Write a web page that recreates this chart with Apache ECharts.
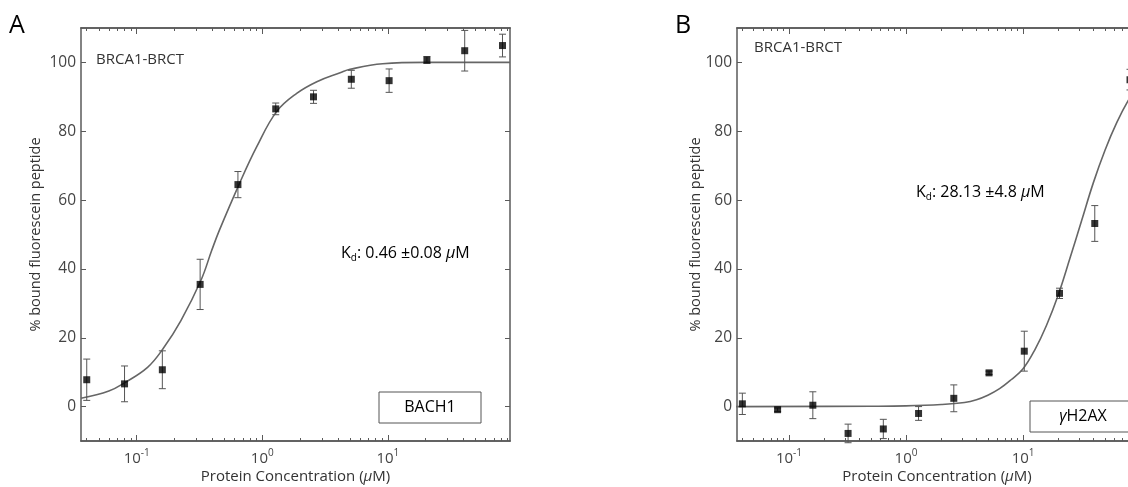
<!DOCTYPE html>
<html>
<head>
<meta charset="utf-8">
<script src="https://cdn.jsdelivr.net/npm/echarts@6/dist/echarts.min.js"></script>
<style>
html, body { margin: 0; padding: 0; background: #fff; }
#chart { width: 1128px; height: 487px; }
</style>
</head>
<body>
<div id="chart"></div>
<script>
// 2-fold dilution series of the protein (uM)
var conc = [0.04, 0.08, 0.16, 0.32, 0.64, 1.28, 2.56, 5.12, 10.24, 20.48, 40.96, 81.92];

// panel A - BACH1
var meanA = [7.8, 6.6, 10.7, 35.5, 64.5, 86.5, 90.0, 95.1, 94.7, 100.7, 103.4, 104.9];
var errA = [6.0, 5.2, 5.5, 7.3, 3.8, 1.7, 1.9, 2.6, 3.4, 1.0, 5.9, 3.3];
var fitXA = [0.036, 0.06, 0.08, 0.122, 0.162, 0.225, 0.325, 0.396, 0.455, 0.658, 0.904, 1.30, 1.88, 2.72, 4.17, 5.0, 9.1, 20, 94];
var fitYA = [2.4, 4.5, 6.9, 11.4, 16.8, 25.0, 36.7, 45.4, 51.2, 64.8, 75.5, 85.7, 91.0, 94.4, 97.0, 98.0, 99.6, 100, 100];

// panel B - gammaH2AX
var meanB = [0.8, -0.9, 0.4, -7.8, -6.5, -2.0, 2.4, 9.8, 16.1, 32.9, 53.2, 95.0];
var errB = [3.1, 0.5, 3.9, 2.7, 2.8, 2.0, 3.9, 0.5, 5.8, 1.5, 5.2, 3.0];
var fitXB = [0.035, 0.5, 1.0, 2.0, 3.16, 4.0, 5.0, 6.3, 7.9, 10.0, 12.6, 15.8, 20.0, 25.1, 31.6, 39.8, 50.1, 63.1, 79.4, 94];
var fitYB = [0, 0.1, 0.2, 0.6, 1.2, 2.0, 3.3, 5.2, 7.8, 11.0, 16.5, 23.5, 32.5, 43.0, 54.0, 65.0, 74.5, 82.5, 89.0, 92.5];

// ticks
var majorTicks = [0.1, 1, 10];
var minorTicks = [0.04, 0.05, 0.06, 0.07, 0.08, 0.09,
                  0.2, 0.3, 0.4, 0.5, 0.6, 0.7, 0.8, 0.9,
                  2, 3, 4, 5, 6, 7, 8, 9,
                  20, 30, 40, 50, 60, 70, 80, 90];
var yTicks = [0, 20, 40, 60, 80, 100];

var ff = 'Open Sans, sans-serif';
var axisColor = '#5a5a5a';

function xAx(grid, pos, ticks, len, withLabel) {
    var ax = {
        type: 'log', logBase: 10, gridIndex: grid, position: pos,
        min: 0.036, max: 94,
        axisLine: {show: true, onZero: false, lineStyle: {color: axisColor, width: 1.5}},
        axisTick: {show: true, inside: true, length: len, customValues: ticks,
                   lineStyle: {color: axisColor, width: 1}},
        axisLabel: {show: false},
        splitLine: {show: false}
    };
    if (withLabel) {
        ax.axisLabel = {
            show: true, customValues: majorTicks, margin: 7,
            formatter: function (v) {
                return '{b|10}{s|' + Math.round(Math.log10(v)) + '}';
            },
            rich: {
                b: {fontFamily: ff, fontSize: 15, color: '#444', lineHeight: 21},
                s: {fontFamily: ff, fontSize: 10, color: '#444', lineHeight: 12, verticalAlign: 'top'}
            }
        };
        ax.name = 'Protein Concentration ({i|μ}M)';
        ax.nameLocation = 'middle';
        ax.nameGap = 28;
        ax.nameMoveOverlap = false;
        ax.nameTextStyle = {fontFamily: ff, fontSize: 15, color: '#333',
            rich: {i: {fontFamily: ff, fontSize: 15, color: '#333', fontStyle: 'italic'}}};
    }
    return ax;
}

function yAx(grid, pos, withLabel, gap) {
    var ax = {
        type: 'value', gridIndex: grid, position: pos, min: -10, max: 110,
        axisLine: {show: true, onZero: false, lineStyle: {color: axisColor, width: 1.5}},
        axisTick: {show: true, inside: true, length: 5, customValues: yTicks,
                   lineStyle: {color: axisColor, width: 1}},
        axisLabel: {show: false},
        splitLine: {show: false}
    };
    if (withLabel) {
        ax.axisLabel = {show: true, customValues: yTicks, margin: 5,
                        fontFamily: ff, fontSize: 15.5, color: '#444'};
        ax.name = '% bound fluorescein peptide';
        ax.nameLocation = 'middle';
        ax.nameGap = gap;
        ax.nameMoveOverlap = false;
        ax.nameTextStyle = {fontFamily: ff, fontSize: 14.5, color: '#333'};
    }
    return ax;
}

function errBars(xs, mean, err) {
    return xs.map(function (x, i) { return [x, mean[i] - err[i], mean[i] + err[i]]; });
}

function pairs(xs, ys) {
    return xs.map(function (x, i) { return [x, ys[i]]; });
}

function renderErr(params, api) {
    var x = api.value(0);
    var p1 = api.coord([x, api.value(1)]);
    var p2 = api.coord([x, api.value(2)]);
    var cap = 3.5;
    var st = {stroke: '#555', lineWidth: 1};
    return {
        type: 'group',
        children: [
            {type: 'line', shape: {x1: p1[0], y1: p1[1], x2: p2[0], y2: p2[1]}, style: st},
            {type: 'line', shape: {x1: p1[0] - cap, y1: p1[1], x2: p1[0] + cap, y2: p1[1]}, style: st},
            {type: 'line', shape: {x1: p2[0] - cap, y1: p2[1], x2: p2[0] + cap, y2: p2[1]}, style: st}
        ]
    };
}

function panelSeries(xi, yi, fitX, fitY, mean, err) {
    return [
        {
            type: 'line', xAxisIndex: xi, yAxisIndex: yi, data: pairs(fitX, fitY),
            smooth: 0.4, showSymbol: false, silent: true, z: 2,
            lineStyle: {color: '#666', width: 1.6}
        },
        {
            type: 'custom', xAxisIndex: xi, yAxisIndex: yi, data: errBars(conc, mean, err),
            renderItem: renderErr, encode: {x: 0, y: [1, 2]}, z: 3, silent: true
        },
        {
            type: 'scatter', xAxisIndex: xi, yAxisIndex: yi, data: pairs(conc, mean),
            symbol: 'rect', symbolSize: 7, itemStyle: {color: '#000'}, z: 4, silent: true
        }
    ];
}

var kdRich = {
    k: {fontFamily: ff, fontSize: 16, color: '#222', lineHeight: 20},
    d: {fontFamily: ff, fontSize: 10, color: '#222', lineHeight: 11, verticalAlign: 'bottom'},
    t: {fontFamily: ff, fontSize: 16, color: '#222', lineHeight: 20},
    mu: {fontFamily: ff, fontSize: 16, color: '#222', lineHeight: 20, fontStyle: 'italic'}
};

function note(x, y, text, size, color) {
    return {type: 'text', x: x, y: y,
            style: {text: text, font: size + 'px ' + ff, fill: color, align: 'left', verticalAlign: 'middle'}};
}

function kdNote(x, y, text) {
    return {type: 'text', x: x, y: y,
            style: {text: text, rich: kdRich, align: 'left', verticalAlign: 'middle'}};
}

function legendBox(x, y, w, h, label) {
    return {
        type: 'group', x: x, y: y,
        children: [
            {type: 'rect', shape: {x: 0, y: 0, width: w, height: h},
             style: {fill: '#fff', stroke: '#555', lineWidth: 1}},
            {type: 'text', x: w / 2, y: h / 2,
             style: {text: label, rich: {g: {fontFamily: ff, fontSize: 16, color: '#222', fontStyle: 'italic'},
                                         n: {fontFamily: ff, fontSize: 16, color: '#222'}},
                     align: 'center', verticalAlign: 'middle'}}
        ]
    };
}

var chart = echarts.init(document.getElementById('chart'), null, {renderer: 'canvas'});

chart.setOption({
    animation: false,
    backgroundColor: '#fff',
    grid: [
        {left: 81, top: 28, width: 429, height: 413, outerBoundsMode: 'none'},
        {left: 737, top: 28, width: 400, height: 413, outerBoundsMode: 'none'}
    ],
    xAxis: [
        xAx(0, 'bottom', majorTicks, 6, true),
        xAx(0, 'bottom', minorTicks, 3, false),
        xAx(0, 'top', majorTicks, 6, false),
        xAx(0, 'top', minorTicks, 3, false),
        xAx(1, 'bottom', majorTicks, 6, true),
        xAx(1, 'bottom', minorTicks, 3, false),
        xAx(1, 'top', majorTicks, 6, false),
        xAx(1, 'top', minorTicks, 3, false)
    ],
    yAxis: [
        yAx(0, 'left', true, 38),
        yAx(0, 'right', false),
        yAx(1, 'left', true, 34),
        yAx(1, 'right', false)
    ],
    series: panelSeries(0, 0, fitXA, fitYA, meanA, errA)
        .concat(panelSeries(4, 2, fitXB, fitYB, meanB, errB)),
    graphic: [
        note(9, 26, 'A', 25, '#000'),
        note(675, 26, 'B', 25, '#000'),
        note(96, 60, 'BRCA1-BRCT', 15, '#333'),
        note(754, 48, 'BRCA1-BRCT', 15, '#333'),
        kdNote(341, 253, '{k|K}{d|d}{t|: 0.46 ±0.08 }{mu|μ}{t|M}'),
        kdNote(916, 192, '{k|K}{d|d}{t|: 28.13 ±4.8 }{mu|μ}{t|M}'),
        legendBox(379, 392, 102, 31, '{n|BACH1}'),
        legendBox(1030, 401, 106, 31, '{g|γ}{n|H2AX}')
    ]
});
</script>
</body>
</html>
